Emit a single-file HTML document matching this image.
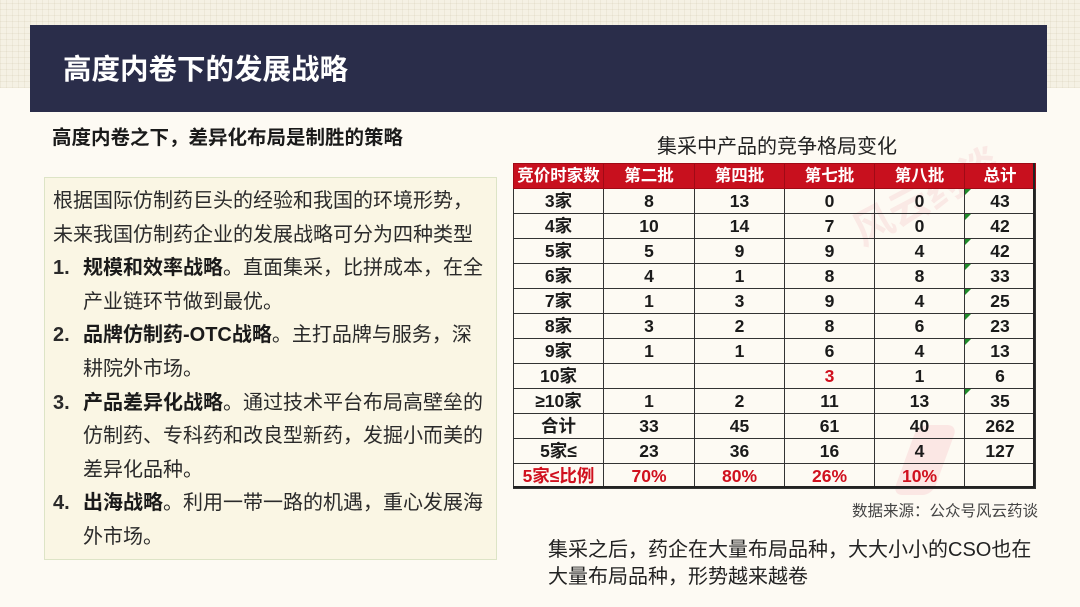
<!DOCTYPE html>
<html>
<head>
<meta charset="utf-8">
<style>
  html,body{margin:0;padding:0;}
  body{width:1080px;height:607px;position:relative;overflow:hidden;background:#fdfaf3;
    font-family:"Liberation Sans","Noto Sans CJK SC",sans-serif;color:#222;}
  .gridbg{position:absolute;left:0;top:0;width:1080px;height:88px;background-color:#f5f1e4;
    background-image:repeating-linear-gradient(0deg,rgba(200,190,160,0.18) 0 1px,transparent 1px 6px),
    repeating-linear-gradient(90deg,rgba(200,190,160,0.18) 0 1px,transparent 1px 6px);}
  .header{position:absolute;left:30px;top:25px;width:1017px;height:87px;background:#2a2d4a;}
  .title{position:absolute;left:63px;top:50px;font-size:28.5px;font-weight:bold;color:#fff;line-height:40px;white-space:nowrap;}
  .sub{position:absolute;left:52px;top:124px;font-size:19.5px;font-weight:bold;color:#1a1a1a;line-height:28px;white-space:nowrap;}
  .box{position:absolute;left:44px;top:177px;width:451px;height:381px;background:#faf6e4;border:1px solid #dde4c6;}
  .txt{position:absolute;left:53px;top:185px;font-size:20px;line-height:33.6px;color:#2a2a2a;white-space:nowrap;}
  .txt div{height:33.6px;}
  .num{display:inline-block;width:30px;font-weight:bold;}
  .ind{padding-left:30px;}
  b{font-weight:bold;color:#1a1a1a;}
  .ttitle{position:absolute;left:657px;top:133px;font-size:20px;line-height:28px;color:#222;white-space:nowrap;}
  table{position:absolute;left:513px;top:163px;border-collapse:collapse;table-layout:fixed;
    font-family:"Liberation Sans","Noto Sans CJK SC",sans-serif;}
  td{height:24px;padding:0;border:1px solid #333;text-align:center;font-weight:bold;font-size:17.5px;line-height:24px;color:#1a1a1a;position:relative;background:transparent;}
  tr.h td{background:#c8101e;color:#fff;border-color:#a00a16;font-size:16.5px;}
  .red{color:#d0101e;}
  tr.last td{color:#d0101e;}
  .tri{position:absolute;left:0;top:0;width:0;height:0;border-top:6px solid #1f8a2a;border-right:6px solid transparent;}
  .outer{position:absolute;left:513px;top:163px;width:522px;height:325px;border-right:2px solid #222;border-bottom:2px solid #222;box-sizing:border-box;pointer-events:none;}
  .wm{position:absolute;left:845px;top:165px;font-size:40px;color:rgba(235,120,140,0.13);transform:rotate(-28deg);white-space:nowrap;font-weight:bold;}
  .wm2{position:absolute;left:905px;top:425px;width:40px;height:70px;background:rgba(240,120,140,0.14);transform:skewX(-20deg);border-radius:10px;}
  .src{position:absolute;left:852px;top:501px;font-size:15.5px;line-height:22px;color:#444;white-space:nowrap;}
  .bt{position:absolute;left:548px;top:537px;font-size:20px;line-height:27px;color:#222;white-space:nowrap;}
</style>
</head>
<body>
<div class="gridbg"></div>
<div class="header"></div>
<div class="title">高度内卷下的发展战略</div>
<div class="sub">高度内卷之下，差异化布局是制胜的策略</div>

<div class="box"></div>
<div class="txt">
  <div>根据国际仿制药巨头的经验和我国的环境形势，</div>
  <div>未来我国仿制药企业的发展战略可分为四种类型</div>
  <div><span class="num">1.</span><b>规模和效率战略</b>。直面集采，比拼成本，在全</div>
  <div class="ind">产业链环节做到最优。</div>
  <div><span class="num">2.</span><b>品牌仿制药-OTC战略</b>。主打品牌与服务，深</div>
  <div class="ind">耕院外市场。</div>
  <div><span class="num">3.</span><b>产品差异化战略</b>。通过技术平台布局高壁垒的</div>
  <div class="ind">仿制药、专科药和改良型新药，发掘小而美的</div>
  <div class="ind">差异化品种。</div>
  <div><span class="num">4.</span><b>出海战略</b>。利用一带一路的机遇，重心发展海</div>
  <div class="ind">外市场。</div>
</div>

<div class="ttitle">集采中产品的竞争格局变化</div>
<div class="wm">风云药谈</div>
<div class="wm2"></div>
<table>
  <colgroup><col style="width:90px"><col style="width:91px"><col style="width:90px"><col style="width:90px"><col style="width:90px"><col style="width:71px"></colgroup>
  <tr class="h"><td>竞价时家数</td><td>第二批</td><td>第四批</td><td>第七批</td><td>第八批</td><td>总计</td></tr>
  <tr><td>3家</td><td>8</td><td>13</td><td>0</td><td>0</td><td><span class="tri"></span>43</td></tr>
  <tr><td>4家</td><td>10</td><td>14</td><td>7</td><td>0</td><td><span class="tri"></span>42</td></tr>
  <tr><td>5家</td><td>5</td><td>9</td><td>9</td><td>4</td><td><span class="tri"></span>42</td></tr>
  <tr><td>6家</td><td>4</td><td>1</td><td>8</td><td>8</td><td><span class="tri"></span>33</td></tr>
  <tr><td>7家</td><td>1</td><td>3</td><td>9</td><td>4</td><td><span class="tri"></span>25</td></tr>
  <tr><td>8家</td><td>3</td><td>2</td><td>8</td><td>6</td><td><span class="tri"></span>23</td></tr>
  <tr><td>9家</td><td>1</td><td>1</td><td>6</td><td>4</td><td><span class="tri"></span>13</td></tr>
  <tr><td>10家</td><td></td><td></td><td class="red">3</td><td>1</td><td>6</td></tr>
  <tr><td>≥10家</td><td>1</td><td>2</td><td>11</td><td>13</td><td><span class="tri"></span>35</td></tr>
  <tr><td>合计</td><td>33</td><td>45</td><td>61</td><td>40</td><td>262</td></tr>
  <tr><td>5家≤</td><td>23</td><td>36</td><td>16</td><td>4</td><td>127</td></tr>
  <tr class="last"><td>5家≤比例</td><td>70%</td><td>80%</td><td>26%</td><td>10%</td><td></td></tr>
</table>
<div class="outer"></div>

<div class="src">数据来源：公众号风云药谈</div>
<div class="bt">集采之后，药企在大量布局品种，大大小小的CSO也在<br>大量布局品种，形势越来越卷</div>
</body>
</html>
